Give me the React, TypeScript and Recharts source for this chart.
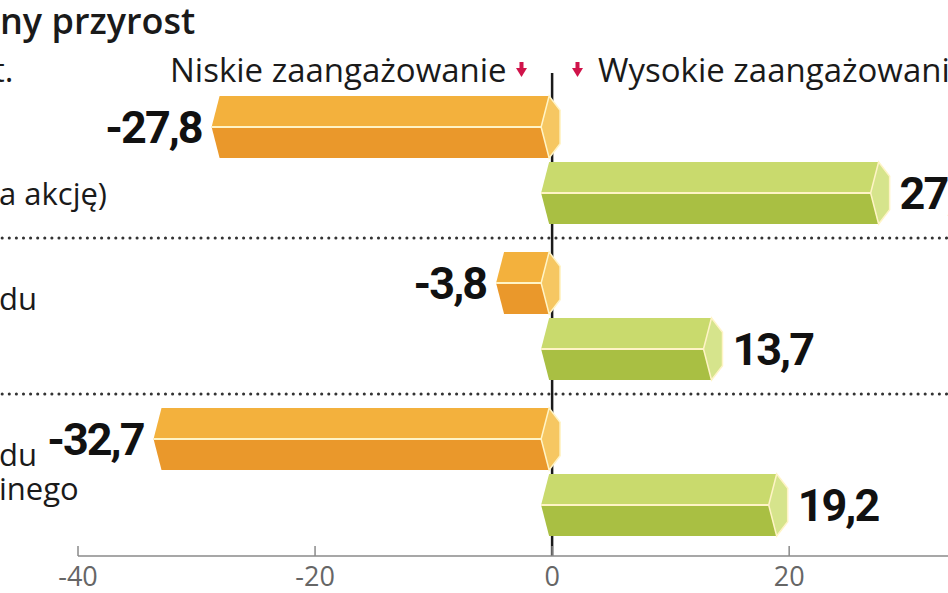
import { BarChart, Bar, XAxis, YAxis, ReferenceLine, LabelList } from 'recharts'

const categories = ['eps', 'obrot', 'przeplyw']
// visible pieces of the row labels (the rest is cut off at the left edge)
const rowLabels = [['', '', 'a akcję)'], ['du', ''], ['du', 'inego']]
const niskie = [-27.8, -3.8, -32.7]
const wysokie = [27.8, 13.7, 19.2]
const ticks = [-40, -20, 0, 20]
// dotted rules sit at the top of these rows
const separatorRows = ['obrot', 'przeplyw']

const data = categories.map((id, i) => ({ id, niskie: niskie[i], wysokie: wysokie[i] }))

const W = 948
const H = 593
const TEXT = '"Open Sans", "Noto Sans", sans-serif'
const NUM = '"Roboto", "Liberation Sans", sans-serif'
const EDGE = '#fff4c6'

const fmt = (v: number) => v.toFixed(1).replace('.', ',')

function makePrism(top: string, bottom: string, cap: string) {
  return (props: any) => {
    const { x, y, width, height } = props
    const L = Math.min(x, x + width) - 3
    const R = Math.max(x, x + width) - 3
    const t = y
    const b = y + height
    const m = y + height / 2
    const tip = 8
    const cw = 11
    const k = height * 0.23
    return (
      <g>
        <polygon points={`${L},${t} ${R},${t} ${R - tip},${m} ${L - tip},${m}`} fill={top} />
        <polygon points={`${L - tip},${m} ${R - tip},${m} ${R},${b} ${L},${b}`} fill={bottom} />
        <line x1={L - tip} y1={m} x2={R - tip} y2={m} stroke={EDGE} strokeWidth={2} />
        <polygon
          points={`${R},${t} ${R + cw},${t + k} ${R + cw},${b - k} ${R},${b} ${R - tip},${m}`}
          fill={cap}
          stroke={EDGE}
          strokeWidth={1.5}
        />
      </g>
    )
  }
}

const ValueLabel = (props: any) => {
  const vb = props.viewBox ?? props
  const { x, y, width, height } = vb
  const left = Math.min(x, x + width)
  const right = Math.max(x, x + width)
  const v = Number(props.value)
  const neg = v < 0
  return (
    <text
      x={neg ? left - 21 : right + 18}
      y={y + height / 2}
      dy="0.36em"
      textAnchor={neg ? 'end' : 'start'}
      fontFamily={NUM}
      fontWeight={700}
      fontSize={45}
      letterSpacing={-2}
      fill="#111"
    >
      {fmt(v)}
    </text>
  )
}

const RowTick = (props: any) => {
  const { y, index } = props
  const lines = rowLabels[index] ?? []
  const n = lines.length
  return (
    <g>
      {lines.map((s, i) => (
        <text key={i} x={-1} y={y + (i - (n - 1) / 2) * 34} dy="0.35em" textAnchor="start"
          fontFamily={TEXT} fontSize={31} fill="#1a1a1a">
          {s}
        </text>
      ))}
    </g>
  )
}

const AxisTick = (props: any) => {
  const { x, y, payload } = props
  return (
    <g>
      <line x1={x} y1={y - 10} x2={x} y2={y} stroke="#8a8a8a" strokeWidth={1.5} />
      <text x={x} y={y + 30} textAnchor="middle" fontFamily={TEXT} fontSize={27} fill="#666">
        {payload.value}
      </text>
    </g>
  )
}

const Arrow = ({ x }: { x: number }) => (
  <g transform={`translate(${x},62)`}>
    <rect x={3.5} y={0} width={4} height={8} fill="#d0134a" />
    <polygon points="0,6 11,6 5.5,15" fill="#d0134a" />
  </g>
)

export default function App() {
  return (
    <div style={{ position: 'absolute', left: 0, top: 0, width: W, height: H, overflow: 'hidden', background: '#fff' }}>
      <BarChart
        width={W}
        height={H}
        data={data}
        layout="vertical"
        margin={{ top: 73, right: 0, bottom: 0, left: 0 }}
        barSize={62}
        barGap={4}
      >
        <XAxis
          type="number"
          domain={[-40, 33.4]}
          ticks={ticks}
          interval={0}
          allowDataOverflow
          height={37}
          tickSize={0}
          tickMargin={0}
          tickLine={false}
          axisLine={{ stroke: '#8a8a8a', strokeWidth: 1.5 }}
          tick={<AxisTick />}
        />
        <YAxis
          type="category"
          dataKey="id"
          width={78}
          padding={{ top: 9, bottom: 6 }}
          axisLine={false}
          tickLine={false}
          tick={<RowTick />}
        />
        <ReferenceLine x={0} stroke="#1a1a1a" strokeWidth={2.5} zIndex={0} />
        {separatorRows.map(r => (
          <ReferenceLine
            key={r}
            position="start"
            segment={[{ x: -47, y: r }, { x: 34, y: r }]}
            ifOverflow="visible"
            stroke="#333"
            strokeWidth={3}
            strokeLinecap="round"
            strokeDasharray="0.1 7"
          />
        ))}
        <Bar dataKey="niskie" isAnimationActive={false} shape={makePrism('#f3b13d', '#ea982b', '#f6c762')}>
          <LabelList dataKey="niskie" content={<ValueLabel />} />
        </Bar>
        <Bar dataKey="wysokie" isAnimationActive={false} shape={makePrism('#c9da6d', '#a9bf43', '#d6e48c')}>
          <LabelList dataKey="wysokie" content={<ValueLabel />} />
        </Bar>
      </BarChart>
      <svg width={W} height={H} style={{ position: 'absolute', left: 0, top: 0, pointerEvents: 'none' }}>
        <text x={0} y={34} fontFamily={TEXT} fontWeight={600} fontSize={36} fill="#1a1a1a">ny przyrost</text>
        <text x={-7} y={82} fontFamily={TEXT} fontSize={33} fill="#1a1a1a">t.</text>
        <text x={170} y={82} fontFamily={TEXT} fontSize={33} fill="#1a1a1a">Niskie zaangażowanie</text>
        <Arrow x={516} />
        <Arrow x={572} />
        <text x={598} y={82} fontFamily={TEXT} fontSize={33} fill="#1a1a1a">Wysokie zaangażowanie</text>
      </svg>
    </div>
  )
}
